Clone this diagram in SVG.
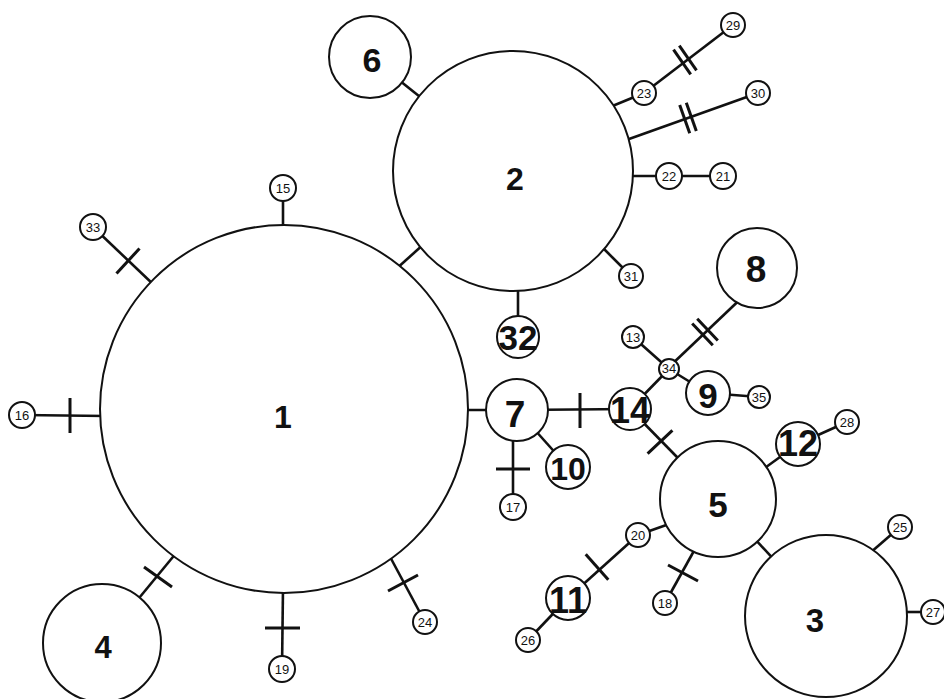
<svg xmlns="http://www.w3.org/2000/svg" width="944" height="699" viewBox="0 0 944 699">
<style>
.c{fill:#fff;stroke:#111;stroke-width:2}
.l{stroke:#111;stroke-width:2.6;fill:none}
.b{stroke:#111;stroke-width:3;fill:none}
.t{font-family:"Liberation Sans",Arial,sans-serif;font-weight:bold;text-anchor:middle;fill:#111}
.s{font-family:"Liberation Sans",Arial,sans-serif;font-size:13px;text-anchor:middle;fill:#111}
</style>
<rect width="944" height="699" fill="#fff"/>
<g id="connectors">
<line class="l" x1="395" y1="270" x2="425" y2="243"/>
<line class="l" x1="513" y1="171" x2="370" y2="57"/>
<line class="l" x1="610" y1="107" x2="644" y2="93"/>
<line class="l" x1="644" y1="93" x2="733" y2="25"/>
<line class="l" x1="615" y1="144" x2="758" y2="93"/>
<line class="l" x1="620" y1="176" x2="723" y2="176"/>
<line class="l" x1="600" y1="245" x2="631" y2="276"/>
<line class="l" x1="518" y1="280" x2="518" y2="337"/>
<line class="l" x1="283" y1="232" x2="283" y2="188"/>
<line class="l" x1="155" y1="286" x2="93" y2="227"/>
<line class="l" x1="106" y1="416" x2="22" y2="415"/>
<line class="l" x1="177" y1="552" x2="102" y2="643"/>
<line class="l" x1="283" y1="588" x2="282" y2="669"/>
<line class="l" x1="388" y1="553" x2="425" y2="622"/>
<line class="l" x1="462" y1="410" x2="517" y2="410"/>
<line class="l" x1="517" y1="410" x2="630" y2="409"/>
<line class="l" x1="517" y1="410" x2="568" y2="467"/>
<line class="l" x1="513" y1="430" x2="513" y2="507"/>
<line class="l" x1="630" y1="409" x2="669" y2="369"/>
<line class="l" x1="669" y1="367" x2="750" y2="290"/>
<line class="l" x1="669" y1="369" x2="633" y2="337"/>
<line class="l" x1="669" y1="369" x2="708" y2="393"/>
<line class="l" x1="708" y1="393" x2="759" y2="397"/>
<line class="l" x1="630" y1="409" x2="718" y2="499"/>
<line class="l" x1="762" y1="470" x2="798" y2="444"/>
<line class="l" x1="798" y1="444" x2="847" y2="422"/>
<line class="l" x1="672" y1="523" x2="638" y2="535"/>
<line class="l" x1="638" y1="535" x2="568" y2="598"/>
<line class="l" x1="568" y1="598" x2="528" y2="640"/>
<line class="l" x1="700" y1="540" x2="665" y2="603"/>
<line class="l" x1="718" y1="499" x2="826" y2="616"/>
<line class="l" x1="870" y1="553" x2="900" y2="527"/>
<line class="l" x1="903" y1="612" x2="933" y2="612"/>
<!-- single bars -->
<line class="b" x1="116.5" y1="273.5" x2="139.5" y2="248.5"/>
<line class="b" x1="70" y1="398" x2="70" y2="433"/>
<line class="b" x1="144" y1="567" x2="172" y2="587"/>
<line class="b" x1="265" y1="628" x2="300" y2="628"/>
<line class="b" x1="388" y1="591" x2="418" y2="575"/>
<line class="b" x1="580" y1="393" x2="580" y2="428"/>
<line class="b" x1="496" y1="469" x2="530" y2="469"/>
<line class="b" x1="647.6" y1="453.6" x2="672.4" y2="430.4"/>
<line class="b" x1="585.7" y1="554.3" x2="608.3" y2="579.7"/>
<line class="b" x1="668" y1="565" x2="698" y2="581"/>
<!-- double bars -->
<line class="b" x1="673.5" y1="49.7" x2="690.7" y2="74.3"/>
<line class="b" x1="679.3" y1="45.7" x2="696.5" y2="70.3"/>
<line class="b" x1="679.7" y1="105.1" x2="689.7" y2="133.3"/>
<line class="b" x1="686.3" y1="102.7" x2="696.3" y2="130.9"/>
<line class="b" x1="692.2" y1="323.5" x2="712.8" y2="345.3"/>
<line class="b" x1="697.2" y1="318.7" x2="717.8" y2="340.5"/>
</g>
<g id="n1"><circle class="c" cx="284" cy="409" r="184"/><text class="t" x="283" y="428" font-size="32">1</text></g>
<g id="n2"><circle class="c" cx="513" cy="171" r="120"/><text class="t" x="515" y="190" font-size="32">2</text></g>
<g id="n3"><circle class="c" cx="826" cy="616" r="81"/><text class="t" x="815" y="632" font-size="33">3</text></g>
<g id="n4"><circle class="c" cx="102" cy="643" r="59"/><text class="t" x="103" y="658" font-size="31">4</text></g>
<g id="n5"><circle class="c" cx="718" cy="499" r="58"/><text class="t" x="718" y="517" font-size="35">5</text></g>
<g id="n6"><circle class="c" cx="370" cy="57" r="41"/><text class="t" x="372" y="72" font-size="34">6</text></g>
<g id="n7"><circle class="c" cx="517" cy="410" r="31"/><text class="t" x="515" y="427" font-size="37">7</text></g>
<g id="n8"><circle class="c" cx="757" cy="268" r="40"/><text class="t" x="756" y="282" font-size="37">8</text></g>
<g id="n9"><circle class="c" cx="708" cy="393" r="22"/><text class="t" x="708" y="408" font-size="35">9</text></g>
<g id="n10"><circle class="c" cx="568" cy="467" r="22"/><text class="t" x="568" y="480" font-size="32">10</text></g>
<g id="n11"><circle class="c" cx="568" cy="598" r="22"/><text class="t" x="568" y="613" font-size="36">11</text></g>
<g id="n12"><circle class="c" cx="798" cy="444" r="22"/><text class="t" x="798" y="456" font-size="36">12</text></g>
<g id="n13"><circle class="c" cx="633" cy="337" r="11"/><text class="s" x="633" y="341.5" font-size="12">13</text></g>
<g id="n14"><circle class="c" cx="630" cy="409" r="21"/><text class="t" x="630" y="423" font-size="36">14</text></g>
<g id="n15"><circle class="c" cx="283" cy="188" r="13"/><text class="s" x="283" y="192.5">15</text></g>
<g id="n16"><circle class="c" cx="22" cy="415" r="13"/><text class="s" x="22" y="419.5">16</text></g>
<g id="n17"><circle class="c" cx="513" cy="507" r="13"/><text class="s" x="513" y="511.5">17</text></g>
<g id="n18"><circle class="c" cx="665" cy="603" r="12"/><text class="s" x="665" y="607.5">18</text></g>
<g id="n19"><circle class="c" cx="282" cy="669" r="13"/><text class="s" x="282" y="673.5">19</text></g>
<g id="n20"><circle class="c" cx="638" cy="535" r="12"/><text class="s" x="638" y="539.5">20</text></g>
<g id="n21"><circle class="c" cx="723" cy="176" r="13"/><text class="s" x="723" y="180.5">21</text></g>
<g id="n22"><circle class="c" cx="669" cy="176" r="13"/><text class="s" x="669" y="180.5">22</text></g>
<g id="n23"><circle class="c" cx="644" cy="93" r="12"/><text class="s" x="644" y="97.5">23</text></g>
<g id="n24"><circle class="c" cx="425" cy="622" r="12"/><text class="s" x="425" y="626.5">24</text></g>
<g id="n25"><circle class="c" cx="900" cy="527" r="12"/><text class="s" x="900" y="531.5">25</text></g>
<g id="n26"><circle class="c" cx="528" cy="640" r="12"/><text class="s" x="528" y="644.5">26</text></g>
<g id="n27"><circle class="c" cx="933" cy="612" r="12"/><text class="s" x="933" y="616.5">27</text></g>
<g id="n28"><circle class="c" cx="847" cy="422" r="12"/><text class="s" x="847" y="426.5">28</text></g>
<g id="n29"><circle class="c" cx="733" cy="25" r="12"/><text class="s" x="733" y="29.5">29</text></g>
<g id="n30"><circle class="c" cx="758" cy="93" r="12"/><text class="s" x="758" y="97.5">30</text></g>
<g id="n31"><circle class="c" cx="631" cy="276" r="12"/><text class="s" x="631" y="280.5">31</text></g>
<g id="n32"><circle class="c" cx="518" cy="337" r="21"/><text class="t" x="518" y="350" font-size="35">32</text></g>
<g id="n33"><circle class="c" cx="93" cy="227" r="13"/><text class="s" x="93" y="231.5">33</text></g>
<g id="n34"><circle class="c" cx="669" cy="369" r="10"/><text class="s" x="669" y="373" font-size="11.5">34</text></g>
<g id="n35"><circle class="c" cx="759" cy="397" r="11"/><text class="s" x="759" y="401.5" font-size="12">35</text></g>
</svg>
